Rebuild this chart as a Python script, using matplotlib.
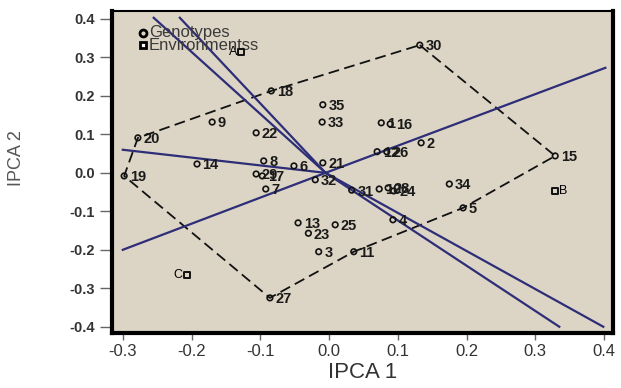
import matplotlib
matplotlib.use("Agg")
from matplotlib import pyplot as plt

# genotype scores (IPCA1, IPCA2)
gen_labels = ["30", "18", "35", "33", "9", "20", "22", "1", "16", "2", "12", "26",
              "15", "14", "19", "8", "6", "21", "29", "17", "7", "32", "31", "10",
              "28", "24", "34", "5", "4", "13", "23", "25", "3", "11", "27"]
gen_x = [0.132, -0.084, -0.009, -0.010, -0.170, -0.278, -0.106, 0.076, 0.089, 0.134, 0.070, 0.084,
         0.329, -0.192, -0.298, -0.095, -0.051, -0.009, -0.106, -0.097, -0.092, -0.020, 0.033, 0.073,
         0.086, 0.094, 0.175, 0.195, 0.093, -0.045, -0.030, 0.009, -0.015, 0.036, -0.086]
gen_y = [0.332, 0.213, 0.177, 0.132, 0.132, 0.091, 0.104, 0.130, 0.127, 0.078, 0.055, 0.055,
         0.044, 0.023, -0.008, 0.031, 0.018, 0.026, -0.003, -0.008, -0.042, -0.018, -0.045, -0.042,
         -0.039, -0.047, -0.029, -0.091, -0.122, -0.130, -0.157, -0.135, -0.205, -0.205, -0.325]

# environment scores
env_labels = ["A", "B", "C"]
env_x = [-0.128, 0.329, -0.207]
env_y = [0.314, -0.047, -0.265]

# polygon vertices (genotype labels)
hull = ["30", "15", "5", "11", "27", "19", "20", "18", "30"]

# rays from the biplot origin
origin = (-0.005, 0.0)
ray_x = [-0.255, -0.217, 0.335, 0.399, 0.402, -0.300, -0.300]
ray_y = [0.403, 0.403, -0.400, -0.400, 0.273, -0.200, 0.060]

xticks = [-0.3, -0.2, -0.1, 0.0, 0.1, 0.2, 0.3, 0.4]
yticks = [-0.4, -0.3, -0.2, -0.1, 0.0, 0.1, 0.2, 0.3, 0.4]

plt.rcParams['font.family'] = ['Liberation Sans', 'DejaVu Sans']

fig = plt.figure(figsize=(6.21, 3.88), dpi=100)
ax = fig.add_axes([0.180, 0.142, 0.807, 0.830])
ax.set_facecolor('#dcd5c5')

lbl = dict(zip(gen_labels, zip(gen_x, gen_y)))
hx = [lbl[k][0] for k in hull]
hy = [lbl[k][1] for k in hull]
ax.plot(hx, hy, color='#111111', lw=1.3, ls=(0, (6, 3)), zorder=2)

for rx, ry in zip(ray_x, ray_y):
    ax.plot([origin[0], rx], [origin[1], ry], color='#2d2d78', lw=1.6, zorder=3)

ax.scatter(gen_x, gen_y, s=16, facecolors='none', edgecolors='#111111', linewidths=1.2, zorder=4)
for t, x, y in zip(gen_labels, gen_x, gen_y):
    ax.annotate(t, (x, y), xytext=(4, -1), textcoords='offset points',
                fontsize=10.5, fontweight='bold', va='center', ha='left', color='#1a1a1a', zorder=5)

ax.scatter(env_x, env_y, s=18, marker='s', facecolors='none', edgecolors='#111111', linewidths=1.4, zorder=4)
for t, x, y in zip(env_labels, env_x, env_y):
    if x > 0:
        ax.annotate(t, (x, y), xytext=(3, 0), textcoords='offset points', fontsize=9, va='center', ha='left')
    else:
        ax.annotate(t, (x, y), xytext=(-3, 0), textcoords='offset points', fontsize=9, va='center', ha='right')

# legend drawn by hand (tight line spacing as in the original)
ax.plot([0.062], [0.932], marker='o', ms=5, mfc='none', mec='black', mew=2, transform=ax.transAxes, clip_on=False)
ax.plot([0.062], [0.894], marker='s', ms=5, mfc='white', mec='black', mew=2, transform=ax.transAxes, clip_on=False)
ax.text(0.074, 0.932, 'Genotypes', transform=ax.transAxes, fontsize=12, color='#3a3a3a', va='center', ha='left')
ax.text(0.074, 0.894, 'Environmentss', transform=ax.transAxes, fontsize=12, color='#3a3a3a', va='center', ha='left')

ax.set_xlim(-0.316, 0.413)
ax.set_ylim(-0.416, 0.421)
ax.set_xticks(xticks)
ax.set_xticklabels([f"{v:.1f}" for v in xticks], fontsize=12, color='#333333')
ax.set_yticks(yticks)
ax.set_yticklabels([f"{v:.1f}" for v in yticks], fontsize=10.5, fontweight='bold', color='#333333')
ax.tick_params(axis='y', length=9, width=1, color='#666666', pad=3)
ax.tick_params(axis='x', length=5, width=1, color='#666666', pad=3)

for side in ['left', 'bottom', 'right']:
    ax.spines[side].set_linewidth(3)
ax.spines['top'].set_linewidth(1.5)

ax.set_xlabel('IPCA 1', fontsize=16, color='#333333', labelpad=2)
ax.set_ylabel('IPCA 2', fontsize=13, color='#555555',
              family=['Liberation Sans Narrow', 'Liberation Sans'])
ax.yaxis.set_label_coords(-0.174, 0.543)

fig.savefig('out.png', dpi=100)
